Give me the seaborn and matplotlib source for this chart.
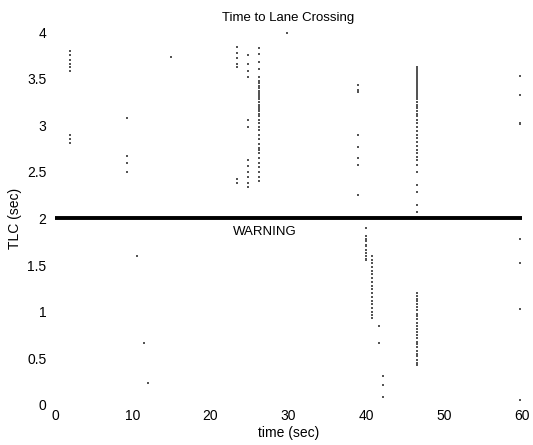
import matplotlib
matplotlib.use("Agg")
import matplotlib.pyplot as plt
import pandas as pd
import seaborn as sns

# time stamps (sec) of each column of dots, and the TLC readings (sec) in it
col_times = [1.9, 1.9, 9.3, 10.6, 11.4, 12.0, 14.9,
             23.4, 24.8, 26.2, 29.8, 39.0,
             40.0, 40.8, 41.6, 42.2,
             46.5, 46.5, 59.8]
col_tlc = [
    [3.80, 3.75, 3.70, 3.66, 3.62, 3.58],
    [2.90, 2.85, 2.81],
    [3.08, 2.67, 2.60, 2.50],
    [1.60],
    [0.66],
    [0.24],
    [3.73],
    [3.84, 3.78, 3.72, 3.66, 3.62, 2.42, 2.38],
    [3.75, 3.66, 3.58, 3.52, 3.06, 2.98, 2.63, 2.56, 2.50, 2.44, 2.38, 2.34],
    [3.83, 3.76, 3.68, 3.60, 3.52, 3.48, 3.45, 3.42, 3.40, 3.37, 3.35, 3.32,
     3.30, 3.28, 3.25, 3.22, 3.20, 3.17, 3.15, 3.12, 3.10, 3.06, 3.02, 2.98,
     2.95, 2.90, 2.85, 2.80, 2.76, 2.73, 2.70, 2.65, 2.60, 2.55, 2.50, 2.45, 2.40],
    [3.99],
    [3.43, 3.38, 3.36, 2.90, 2.77, 2.65, 2.57, 2.25],
    [1.90, 1.81, 1.78, 1.76, 1.72, 1.70, 1.66, 1.63, 1.60, 1.57, 1.55],
    [1.60, 1.56, 1.52, 1.48, 1.44, 1.40, 1.36, 1.32, 1.28, 1.24, 1.20, 1.16,
     1.12, 1.08, 1.04, 1.00, 0.96, 0.93],
    [0.85, 0.66],
    [0.31, 0.21, 0.09],
    [3.62, 3.60, 3.58, 3.56, 3.54, 3.52, 3.50, 3.48, 3.46, 3.44, 3.42, 3.40,
     3.38, 3.36, 3.34, 3.32, 3.30, 3.28, 3.25, 3.22, 3.20, 3.18, 3.15, 3.12,
     3.10, 3.06, 3.02, 2.98, 2.94, 2.90, 2.86, 2.82, 2.78, 2.74, 2.70, 2.66,
     2.63, 2.57, 2.50, 2.36, 2.28, 2.14, 2.07],
    [1.20, 1.17, 1.14, 1.11, 1.08, 1.05, 1.02, 0.98, 0.95, 0.92, 0.88, 0.85,
     0.82, 0.78, 0.75, 0.72, 0.68, 0.65, 0.62, 0.58, 0.55, 0.52, 0.48, 0.45, 0.43],
    [3.53, 3.32, 3.02, 3.01, 1.78, 1.52, 1.03, 0.05],
]

warn_t = [0, 60]
warn_tlc = [2, 2]

xticks = [0, 10, 20, 30, 40, 50, 60]
yticks = [0, 0.5, 1, 1.5, 2, 2.5, 3, 3.5, 4]

rows = []
for t, ys in zip(col_times, col_tlc):
    for y in ys:
        rows.append((t, y))
df = pd.DataFrame(rows, columns=["time", "tlc"])

sns.set_style("white")
plt.rcParams["font.family"] = ["Liberation Sans", "DejaVu Sans"]
plt.rcParams["text.color"] = "black"
plt.rcParams["axes.labelcolor"] = "black"
plt.rcParams["xtick.color"] = "black"
plt.rcParams["ytick.color"] = "black"

fig = plt.figure(figsize=(5.33, 4.45), dpi=100)
ax = fig.add_axes([0.103, 0.09, 0.876, 0.838])

sns.scatterplot(data=df, x="time", y="tlc", ax=ax, s=2.5, color="#555555",
                linewidth=0, marker="s")
sns.lineplot(x=warn_t, y=warn_tlc, ax=ax, color="black", linewidth=2.8)

ax.text(27, 1.85, "WARNING", ha="center", va="center", fontsize=9.5)
ax.set_title("Time to Lane Crossing", fontsize=9.5, pad=8)
ax.set_xlabel("time (sec)", fontsize=10, labelpad=2)
ax.set_ylabel("TLC (sec)", fontsize=10, labelpad=4)

ax.set_xlim(0, 60)
ax.set_ylim(0, 4)
ax.set_xticks(xticks)
ax.set_xticklabels([str(v) for v in xticks])
ax.set_yticks(yticks)
ax.set_yticklabels([f"{v:g}" for v in yticks])
ax.tick_params(axis="both", labelsize=10, pad=3)
ax.tick_params(axis="y", length=3, width=0.5, color="#bbbbbb")
ax.tick_params(axis="x", length=0)
sns.despine(ax=ax, left=True, bottom=True)

fig.savefig("out.png", dpi=100)
